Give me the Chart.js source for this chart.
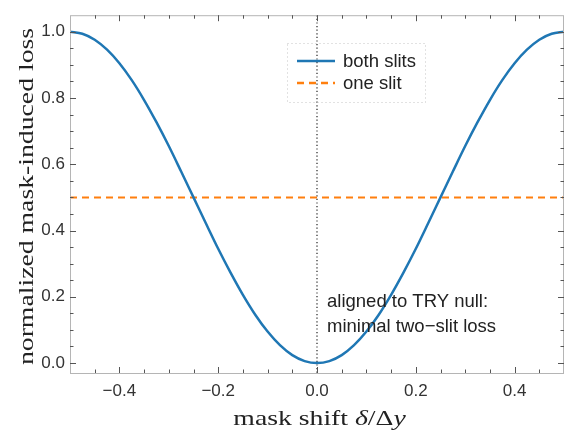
<!DOCTYPE html>
<html>
<head>
<meta charset="utf-8">
<script src="https://cdn.jsdelivr.net/npm/chart.js@4.4.1/dist/chart.umd.min.js"></script>
<style>
  html, body { margin: 0; padding: 0; background: #fff; }
  #wrap { width: 564px; height: 432px; }
</style>
</head>
<body>
<div id="wrap"><canvas id="chart" width="564" height="432"></canvas></div>
<script>
// mask shift values (x) and the two-slit loss
const shiftValues = [-0.5, -0.475, -0.45, -0.425, -0.4, -0.375, -0.35, -0.325, -0.3, -0.275,
  -0.25, -0.225, -0.2, -0.175, -0.15, -0.125, -0.1, -0.075, -0.05, -0.025,
  0, 0.025, 0.05, 0.075, 0.1, 0.125, 0.15, 0.175, 0.2, 0.225,
  0.25, 0.275, 0.3, 0.325, 0.35, 0.375, 0.4, 0.425, 0.45, 0.475, 0.5];
const bothSlits = [1.000, 0.994, 0.976, 0.946, 0.905, 0.854, 0.794, 0.727, 0.655, 0.578,
  0.500, 0.422, 0.345, 0.273, 0.206, 0.146, 0.095, 0.054, 0.024, 0.006,
  0.000, 0.006, 0.024, 0.054, 0.095, 0.146, 0.206, 0.273, 0.345, 0.422,
  0.500, 0.578, 0.655, 0.727, 0.794, 0.854, 0.905, 0.946, 0.976, 0.994, 1.000];
const oneSlitX = [-0.5, 0.5];
const oneSlit = [0.5, 0.5];

const xMajor = [-0.4, -0.2, 0, 0.2, 0.4];
const xMinor = [-0.45, -0.35, -0.3, -0.25, -0.15, -0.1, -0.05, 0.05, 0.1, 0.15, 0.25, 0.3, 0.35, 0.45];
const yMajor = [0, 0.2, 0.4, 0.6, 0.8, 1.0];
const yMinor = [0.05, 0.1, 0.15, 0.25, 0.3, 0.35, 0.45, 0.5, 0.55, 0.65, 0.7, 0.75, 0.85, 0.9, 0.95];

const BLUE = '#1f77b4';
const ORANGE = '#ff7f0e';
const SANS = '"Liberation Sans", Arial, sans-serif';
const SERIF = '"Liberation Serif", "Times New Roman", serif';

// frame, inward ticks, zero line, legend, note and axis titles
const framePlugin = {
  id: 'frame',
  beforeDatasetsDraw(chart) {
    const { ctx, chartArea: a, scales } = chart;
    const x0 = scales.x.getPixelForValue(0);
    ctx.save();
    ctx.strokeStyle = '#222';
    ctx.lineWidth = 1.2;
    ctx.setLineDash([1.2, 2.4]);
    ctx.beginPath();
    ctx.moveTo(x0, a.top);
    ctx.lineTo(x0, a.bottom);
    ctx.stroke();
    ctx.restore();
  },
  afterDraw(chart) {
    const { ctx, chartArea: a, scales } = chart;
    ctx.save();
    ctx.strokeStyle = '#b5b5b5';
    ctx.lineWidth = 1;
    ctx.strokeRect(a.left + 0.5, a.top + 0.5, a.right - a.left - 1, a.bottom - a.top);

    ctx.strokeStyle = '#555';
    ctx.beginPath();
    const tickX = (vals, len) => vals.forEach(v => {
      const px = Math.round(scales.x.getPixelForValue(v)) + 0.5;
      ctx.moveTo(px, a.bottom); ctx.lineTo(px, a.bottom - len);
      ctx.moveTo(px, a.top); ctx.lineTo(px, a.top + len);
    });
    const tickY = (vals, len) => vals.forEach(v => {
      const py = Math.round(scales.y.getPixelForValue(v)) + 0.5;
      ctx.moveTo(a.left, py); ctx.lineTo(a.left + len, py);
      ctx.moveTo(a.right, py); ctx.lineTo(a.right - len, py);
    });
    tickX(xMajor, 6); tickX(xMinor, 3.5);
    tickY(yMajor, 6); tickY(yMinor, 3.5);
    ctx.stroke();

    // legend
    ctx.strokeStyle = '#c4c4c4';
    ctx.setLineDash([1, 3]);
    ctx.strokeRect(287.5, 43.5, 138, 59);
    ctx.setLineDash([]);
    ctx.lineWidth = 2.5;
    ctx.strokeStyle = BLUE;
    ctx.beginPath(); ctx.moveTo(297, 61); ctx.lineTo(335, 61); ctx.stroke();
    ctx.strokeStyle = ORANGE;
    ctx.setLineDash([7, 5]);
    ctx.beginPath(); ctx.moveTo(297, 83); ctx.lineTo(335, 83); ctx.stroke();
    ctx.setLineDash([]);
    ctx.fillStyle = '#222';
    ctx.font = '18.5px ' + SANS;
    ctx.textBaseline = 'middle';
    ctx.textAlign = 'left';
    ctx.fillText('both slits', 343, 62);
    ctx.fillText('one slit', 343, 84);

    // note
    ctx.font = '18.5px ' + SANS;
    ctx.textBaseline = 'alphabetic';
    ctx.fillText('aligned to TRY null:', 327, 307);
    ctx.fillText('minimal two\u2212slit loss', 327, 332);

    // y title (wide serif)
    ctx.save();
    ctx.translate(33, 196.5);
    ctx.rotate(-Math.PI / 2);
    ctx.scale(1.32, 1);
    ctx.font = '21px ' + SERIF;
    ctx.textAlign = 'center';
    ctx.fillText('normalized mask-induced loss', 0, 0);
    ctx.restore();

    // x title with italic symbols
    const parts = [['mask shift ', ''], ['\u03b4', 'italic '], ['/\u0394', ''], ['y', 'italic ']];
    let total = 0;
    parts.forEach(p => { ctx.font = p[1] + '21px ' + SERIF; total += ctx.measureText(p[0]).width; });
    ctx.save();
    ctx.translate(319.5, 425);
    ctx.scale(1.32, 1);
    let cx = -total / 2;
    ctx.textAlign = 'left';
    parts.forEach(p => {
      ctx.font = p[1] + '21px ' + SERIF;
      ctx.fillText(p[0], cx, 0);
      cx += ctx.measureText(p[0]).width;
    });
    ctx.restore();
    ctx.restore();
  }
};

const fmt = v => (Math.abs(v) < 1e-9 ? 0 : v).toFixed(1).replace('-', '\u2212');

new Chart(document.getElementById('chart'), {
  type: 'line',
  data: {
    datasets: [
      {
        label: 'both slits',
        data: shiftValues.map((x, i) => ({ x, y: bothSlits[i] })),
        borderColor: BLUE,
        borderWidth: 2.5,
        pointRadius: 0,
        cubicInterpolationMode: 'monotone'
      },
      {
        label: 'one slit',
        data: oneSlitX.map((x, i) => ({ x, y: oneSlit[i] })),
        borderColor: ORANGE,
        borderWidth: 2,
        borderDash: [7, 5],
        pointRadius: 0
      }
    ]
  },
  options: {
    responsive: false,
    animation: false,
    devicePixelRatio: 1,
    layout: { padding: { top: 8, right: 0, left: 0, bottom: 0 } },
    plugins: { legend: { display: false }, tooltip: { enabled: false } },
    scales: {
      x: {
        type: 'linear',
        min: -0.5,
        max: 0.5,
        grid: { display: false, drawTicks: false },
        border: { display: false },
        afterBuildTicks: s => { s.ticks = xMajor.map(v => ({ value: v })); },
        afterFit: s => { s.height = 59; },
        ticks: {
          padding: 8,
          color: '#333',
          font: { family: SANS, size: 17 },
          maxRotation: 0,
          callback: v => fmt(v)
        }
      },
      y: {
        min: -0.03,
        max: 1.05,
        grid: { display: false, drawTicks: false },
        border: { display: false },
        afterBuildTicks: s => { s.ticks = yMajor.map(v => ({ value: v })); },
        afterFit: s => { s.width = 70; },
        ticks: {
          padding: 5,
          color: '#333',
          font: { family: SANS, size: 17 },
          callback: v => fmt(v)
        }
      }
    }
  },
  plugins: [framePlugin]
});
</script>
</body>
</html>
